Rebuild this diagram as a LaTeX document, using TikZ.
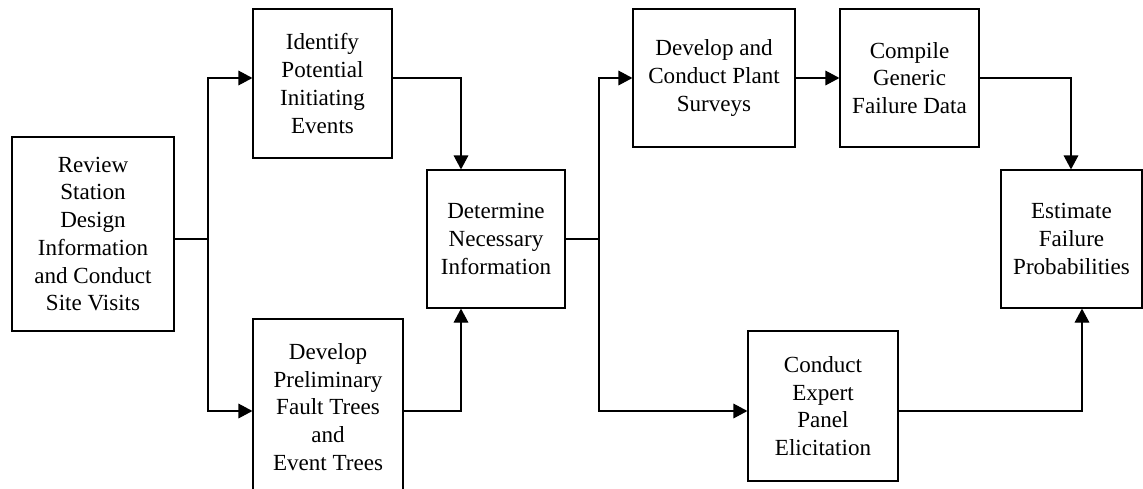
\documentclass[tikz,border=0pt]{standalone}
\usepackage{fontspec}
\setmainfont{Liberation Serif}
\usetikzlibrary{arrows.meta}
\begin{document}
\begin{tikzpicture}[x=0.75pt,y=-0.75pt,
  blk/.style={draw=black, line width=0.9pt, fill=white, align=center, inner sep=2pt,
    font=\fontsize{17.3}{20.8}\selectfont},
  link/.style={line width=0.9pt, draw=black},
  arr/.style={link, -{Triangle[length=10.5pt,width=11pt]}}]
\useasboundingbox (0,0) rectangle (1143,489);
\clip (0,0) rectangle (1143,489);
\fill[white] (0,0) rectangle (1143,489);

% process boxes
\node[blk, minimum width=121.5pt, minimum height=145.5pt] (review) at (93,234)
  {Review\\Station\\Design\\Information\\and Conduct\\Site Visits};
\node[blk, minimum width=104.25pt, minimum height=111.75pt] (identify) at (322.5,83.5)
  {Identify\\Potential\\Initiating\\Events};
\node[blk, minimum width=112.5pt, minimum height=132pt] (prelim) at (328,407)
  {Develop\\Preliminary\\Fault Trees\\and\\Event Trees};
\node[blk, minimum width=103.5pt, minimum height=103.5pt] (determine) at (496,239)
  {Determine\\Necessary\\Information};
\node[blk, minimum width=121.5pt, minimum height=103.5pt] (plant) at (714,78)
  {Develop and\\Conduct Plant\\Surveys};
\node[blk, minimum width=104.25pt, minimum height=103.5pt] (compile) at (909.5,78)
  {Compile\\Generic\\Failure Data};
\node[blk, minimum width=105.75pt, minimum height=103.5pt] (estimate) at (1071.5,239)
  {Estimate\\Failure\\Probabilities};
\node[blk, minimum width=112.5pt, minimum height=112.5pt] (expert) at (823,406)
  {Conduct\\Expert\\Panel\\Elicitation};

% routing points
\coordinate (s1) at (208,239);
\coordinate (s1top) at (208,78);
\coordinate (s1bot) at (208,411);
\coordinate (m1) at (461,78);
\coordinate (m2) at (461,411);
\coordinate (s2) at (599,239);
\coordinate (s2top) at (599,78);
\coordinate (s2bot) at (599,411);
\coordinate (e1) at (1071,78);
\coordinate (e2) at (1082,411);

% connectors
\draw[link] (review.east |- s1) -- (s1);
\draw[arr] (s1) -- (s1top) -- (identify.west |- s1top);
\draw[arr] (s1) -- (s1bot) -- (prelim.west |- s1bot);
\draw[arr] (identify.east |- m1) -- (m1) -- (determine.north -| m1);
\draw[arr] (prelim.east |- m2) -- (m2) -- (determine.south -| m2);
\draw[link] (determine.east |- s2) -- (s2);
\draw[arr] (s2) -- (s2top) -- (plant.west |- s2top);
\draw[arr] (s2) -- (s2bot) -- (expert.west |- s2bot);
\draw[arr] (plant.east |- s2top) -- (compile.west |- s2top);
\draw[arr] (compile.east |- e1) -- (e1) -- (estimate.north -| e1);
\draw[arr] (expert.east |- e2) -- (e2) -- (estimate.south -| e2);
\end{tikzpicture}
\end{document}
